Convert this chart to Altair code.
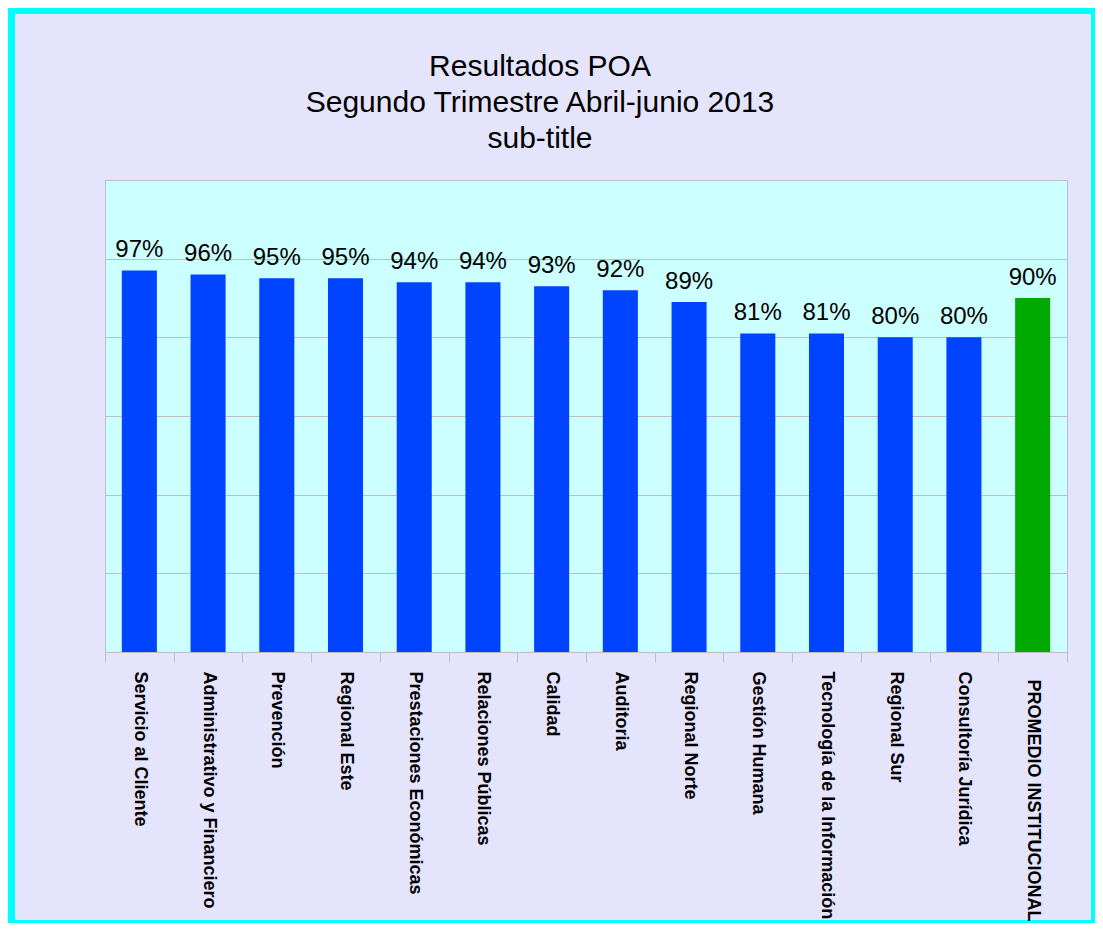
import altair as alt
import pandas as pd

categories = [
    "Servicio al Cliente", "Administrativo y Financiero", "Prevención", "Regional Este",
    "Prestaciones Económicas", "Relaciones Públicas", "Calidad", "Auditoria",
    "Regional Norte", "Gestión Humana", "Tecnología de la Información", "Regional Sur",
    "Consultoría Jurídica", "PROMEDIO INSTITUCIONAL",
]
values = [97, 96, 95, 95, 94, 94, 93, 92, 89, 81, 81, 80, 80, 90]
kinds = ["Área"] * 13 + ["Promedio"]
grid_values = [0, 20, 40, 60, 80, 100, 120]
title_lines = ["Resultados POA", "Segundo Trimestre Abril-junio 2013", "sub-title"]

df = pd.DataFrame({"cat": categories, "val": values, "kind": kinds})
df["label"] = df["val"].astype(int).astype(str) + "%"

W, H = 962, 472

x_enc = alt.X(
    "cat:N", sort=categories, title=None,
    scale=alt.Scale(paddingInner=0, paddingOuter=0),
    axis=alt.Axis(
        labelAngle=90, labelAlign="left", labelBaseline="middle",
        labelFont="Liberation Sans", labelFontWeight="bold", labelFontSize=18,
        labelColor="#000000",
        labelPadding={"condition": {"test": "datum.value == 'PROMEDIO INSTITUCIONAL'", "value": 17},
                      "value": 9},
        labelLimit=400,
        tickBand="extent", tickSize=10, tickColor="#BEBEBE",
        domainColor="#BEBEBE", grid=False, zindex=1,
    ),
)
y_enc = alt.Y(
    "val:Q", title=None,
    scale=alt.Scale(domain=[0, 120], nice=False),
    axis=alt.Axis(values=grid_values, labels=False, ticks=False, domain=False,
                  grid=True, gridColor="#BEBEBE"),
)

bars = alt.Chart(df).mark_bar(width=alt.RelativeBandSize(0.51)).encode(
    x=x_enc,
    y=y_enc,
    color=alt.Color("kind:N", legend=None,
                    scale=alt.Scale(domain=["Área", "Promedio"], range=["#0044FF", "#00AA00"])),
)

text = alt.Chart(df).mark_text(
    baseline="alphabetic", dy=-13, fontSize=24, font="Liberation Sans", color="#000000"
).encode(x=alt.X("cat:N", sort=categories), y="val:Q", text="label:N")

border = alt.Chart(alt.Data(values=[{"a": 1}])).mark_rect(
    filled=False, stroke="#00FFFF", strokeWidth=14
).encode(
    x=alt.value(-97), x2=alt.value(993), y=alt.value(-173), y2=alt.value(747)
)

chart = alt.layer(border, bars, text).properties(
    width=W, height=H,
    title=alt.TitleParams(
        text=title_lines, fontSize=30, lineHeight=36, font="Liberation Sans",
        fontWeight="normal", color="#000000", anchor="middle", frame="group",
        dx=-46, offset=-154,
    ),
    autosize=alt.AutoSizeParams(type="none"),
    padding={"left": 97, "top": 172, "right": 28, "bottom": 271},
    background="#E4E4FC",
).configure_view(
    fill="#CCFFFF", stroke="#BEBEBE", strokeWidth=1
)

chart.save("out.html", embed_options={"renderer": "svg", "actions": False})
